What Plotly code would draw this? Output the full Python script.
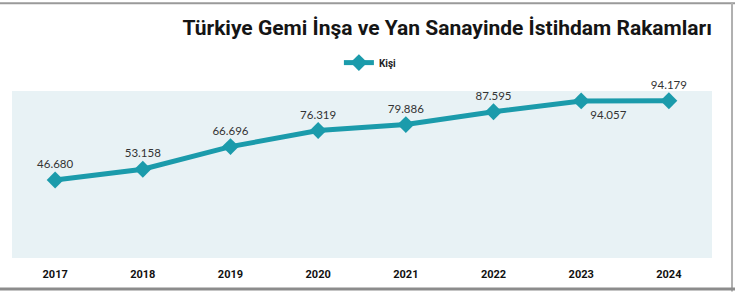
import plotly.graph_objects as go

years = ["2017", "2018", "2019", "2020", "2021", "2022", "2023", "2024"]
employees = [46680, 53158, 66696, 76319, 79886, 87595, 94057, 94179]
series_name = "Kişi"
title_text = "Türkiye Gemi İnşa ve Yan Sanayinde İstihdam Rakamları"

label_positions = ["top center"] * 6 + ["bottom right", "top center"]

teal = "#1b9bab"

fig = go.Figure()
fig.add_trace(go.Scatter(
    x=years, y=employees, name=series_name,
    mode="lines+markers+text",
    line=dict(color=teal, width=5),
    marker=dict(symbol="diamond", size=13, color=teal),
    texttemplate="%{y:,.0f}",
    textposition=label_positions,
    textfont=dict(family="Lato, Open Sans, sans-serif", size=11.5, color="#333333"),
    cliponaxis=False,
))

fig.update_layout(
    width=735, height=293,
    margin=dict(l=12, r=23, t=91, b=33),
    paper_bgcolor="white",
    plot_bgcolor="#e8f2f5",
    separators=",.",
    title=dict(
        text=title_text,
        x=1.0, xref="paper", xanchor="right",
        y=0.905, yref="container", yanchor="middle",
        font=dict(family="Roboto, sans-serif", size=21, color="#151515", weight="bold"),
    ),
    showlegend=True,
    legend=dict(
        orientation="h", x=0.467, xanchor="left", y=1.17, yanchor="middle",
        font=dict(family="Roboto, sans-serif", size=10, color="#222222", weight="bold"),
        bgcolor="rgba(0,0,0,0)", itemwidth=30,
    ),
    xaxis=dict(
        showgrid=False, zeroline=False, showline=False, ticks="",
        tickfont=dict(family="Roboto, sans-serif", size=11, color="#111111", weight="bold"),
        ticklabelstandoff=8,
    ),
    yaxis=dict(range=[0, 100000], visible=False, showgrid=False),
    shapes=[
        dict(type="line", xref="paper", yref="paper", x0=-0.02, x1=1.04, y0=1.525, y1=1.525,
             line=dict(color="#9a9a9a", width=2)),
        dict(type="line", xref="paper", yref="paper", x0=1.0286, x1=1.0286, y0=-0.2, y1=1.53,
             line=dict(color="#b0b0b0", width=2)),
        dict(type="line", xref="paper", yref="paper", x0=-0.02, x1=1.04, y0=-0.185, y1=-0.185,
             line=dict(color="#8c8c8c", width=3)),
    ],
)

fig.write_html("out.html")
